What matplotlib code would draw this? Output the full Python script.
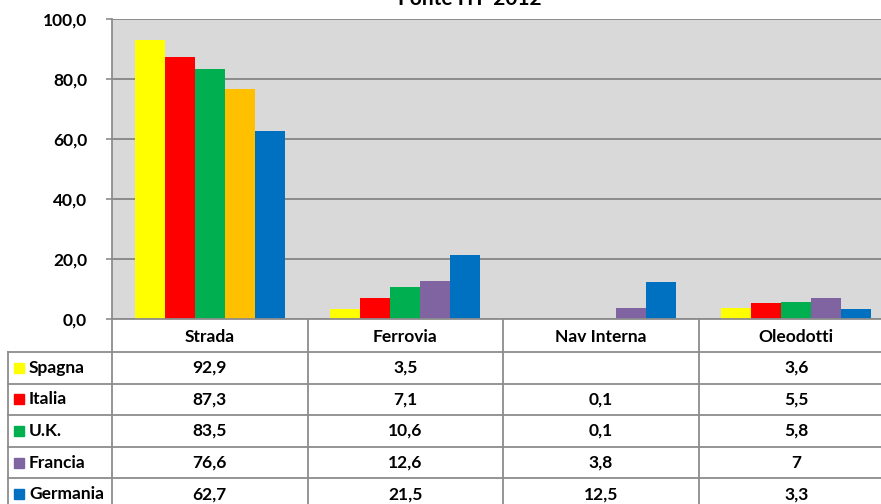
import matplotlib.pyplot as plt
import numpy as np

# modal share of freight transport (%), by country
categories = ["Strada", "Ferrovia", "Nav Interna", "Oleodotti"]
countries = ["Spagna", "Italia", "U.K.", "Francia", "Germania"]
spagna = [92.9, 3.5, np.nan, 3.6]
italia = [87.3, 7.1, 0.1, 5.5]
uk = [83.5, 10.6, 0.1, 5.8]
francia = [76.6, 12.6, 3.8, 7]
germania = [62.7, 21.5, 12.5, 3.3]
series = [spagna, italia, uk, francia, germania]
colors = ["#FFFF00", "#FF0000", "#00B050", "#8064A2", "#0070C0"]
yticks = [0, 20, 40, 60, 80, 100]

W, H = 881, 504
grey = "#8C8C8C"
font = "Lato"
fs = 12.5

fig = plt.figure(figsize=(W / 100, H / 100), dpi=100)

# pixel-based layer for the data table below the bars
tab = fig.add_axes([0, 0, 1, 1])
tab.set_xlim(0, W)
tab.set_ylim(H, 0)
tab.axis("off")

left, right, top, base = 112, 894, 19, 319
ax = fig.add_axes([left / W, 1 - base / H, (right - left) / W, (base - top) / H])
ax.set_facecolor("#D9D9D9")

x = np.arange(len(categories))
bw = 0.1535
for i, (vals, c) in enumerate(zip(series, colors)):
    bar_colors = [c] * len(categories)
    if countries[i] == "Francia":
        bar_colors[0] = "#FFC000"
    ax.bar(x + (i - 2) * bw, vals, bw, color=bar_colors, zorder=3)

ax.set_xlim(-0.5, 3.5)
ax.set_ylim(0, 100)
ax.set_yticks(yticks)
ax.set_yticklabels([f"{t:.1f}".replace(".", ",") for t in yticks],
                   fontsize=fs, fontweight="bold", family=font)
ax.tick_params(axis="y", length=4, width=1.2, color=grey, pad=14)
ax.set_xticks([])
ax.grid(axis="y", color="#858585", linewidth=1.3, zorder=1)
for s in ["top", "right"]:
    ax.spines[s].set_visible(False)
for s in ["left", "bottom"]:
    ax.spines[s].set_color(grey)
    ax.spines[s].set_linewidth(1.3)
ax.spines["bottom"].set_zorder(4)

# title sits right at the top edge
tab.text(470, 5, "Fonte ITF 2012", ha="center", va="baseline",
         fontsize=15, fontweight="bold", family=font)

# data table
col_edges = [left + k * (right - left) / 4 for k in range(5)]
row_h = 31.6
row_top = 352
lw = 1.3
# vertical separators
for xe in col_edges[:-1]:
    tab.plot([xe, xe], [base, H], color=grey, lw=lw)
tab.plot([8, 8], [row_top, H], color=grey, lw=lw)
# horizontal separators
for r in range(len(countries) + 1):
    y = row_top + r * row_h
    tab.plot([8, W], [y, y], color=grey, lw=lw)

for k, cat in enumerate(categories):
    cx = (col_edges[k] + col_edges[k + 1]) / 2
    tab.text(cx, (base + row_top) / 2 + 1, cat, ha="center", va="center",
             fontsize=fs, fontweight="bold", family=font)

for r, (name, vals, c) in enumerate(zip(countries, series, colors)):
    cy = row_top + (r + 0.5) * row_h
    tab.add_patch(plt.Rectangle((14, cy - 5), 10, 10, color=c))
    tab.text(29, cy, name, ha="left", va="center",
             fontsize=fs, fontweight="bold", family=font)
    for k, v in enumerate(vals):
        if np.isnan(v):
            continue
        cx = (col_edges[k] + col_edges[k + 1]) / 2
        tab.text(cx, cy, f"{v:g}".replace(".", ","), ha="center", va="center",
                 fontsize=fs, fontweight="bold", family=font)

fig.savefig("out.png", dpi=100)
